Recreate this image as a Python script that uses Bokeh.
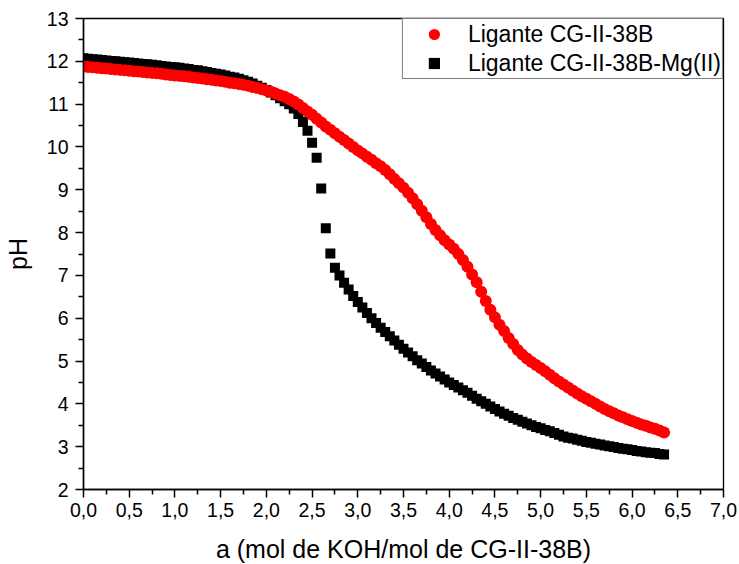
from bokeh.plotting import figure
from bokeh.models import FixedTicker, Range1d, Legend, LegendItem
from bokeh.embed import file_html
from bokeh.resources import INLINE

# Titrant added, a (mol KOH / mol ligand)
a_values = [
    0.00, 0.05, 0.10, 0.15, 0.20, 0.25, 0.30, 0.35, 0.40, 0.45,
    0.50, 0.55, 0.60, 0.65, 0.70, 0.75, 0.80, 0.85, 0.90, 0.95,
    1.00, 1.05, 1.10, 1.15, 1.20, 1.25, 1.30, 1.35, 1.40, 1.45,
    1.50, 1.55, 1.60, 1.65, 1.70, 1.75, 1.80, 1.85, 1.90, 1.95,
    2.00, 2.05, 2.10, 2.15, 2.20, 2.25, 2.30, 2.35, 2.40, 2.45,
    2.50, 2.55, 2.60, 2.65, 2.70, 2.75, 2.80, 2.85, 2.90, 2.95,
    3.00, 3.05, 3.10, 3.15, 3.20, 3.25, 3.30, 3.35, 3.40, 3.45,
    3.50, 3.55, 3.60, 3.65, 3.70, 3.75, 3.80, 3.85, 3.90, 3.95,
    4.00, 4.05, 4.10, 4.15, 4.20, 4.25, 4.30, 4.35, 4.40, 4.45,
    4.50, 4.55, 4.60, 4.65, 4.70, 4.75, 4.80, 4.85, 4.90, 4.95,
    5.00, 5.05, 5.10, 5.15, 5.20, 5.25, 5.30, 5.35, 5.40, 5.45,
    5.50, 5.55, 5.60, 5.65, 5.70, 5.75, 5.80, 5.85, 5.90, 5.95,
    6.00, 6.05, 6.10, 6.15, 6.20, 6.25, 6.30, 6.35,
]

# pH of the free ligand
ph_ligand = [
    11.88, 11.87, 11.86, 11.85, 11.84, 11.83, 11.82, 11.81, 11.80, 11.79,
    11.78, 11.77, 11.76, 11.75, 11.74, 11.73, 11.72, 11.71, 11.69, 11.68,
    11.67, 11.66, 11.65, 11.64, 11.62, 11.61, 11.60, 11.58, 11.57, 11.55,
    11.54, 11.52, 11.50, 11.49, 11.47, 11.45, 11.43, 11.40, 11.38, 11.35,
    11.32, 11.29, 11.25, 11.21, 11.17, 11.12, 11.06, 10.99, 10.91, 10.83,
    10.75, 10.66, 10.57, 10.48, 10.40, 10.32, 10.24, 10.16, 10.08, 10.00,
    9.92, 9.85, 9.77, 9.70, 9.62, 9.55, 9.46, 9.36, 9.25, 9.15,
    9.05, 8.93, 8.80, 8.66, 8.51, 8.36, 8.20, 8.06, 7.94, 7.82,
    7.72, 7.62, 7.50, 7.36, 7.20, 7.02, 6.84, 6.62, 6.40, 6.20,
    6.02, 5.85, 5.70, 5.54, 5.40, 5.26, 5.15, 5.06, 4.98, 4.91,
    4.84, 4.76, 4.68, 4.60, 4.52, 4.45, 4.38, 4.31, 4.24, 4.18,
    4.12, 4.06, 4.00, 3.94, 3.88, 3.83, 3.78, 3.73, 3.69, 3.64,
    3.60, 3.56, 3.52, 3.49, 3.45, 3.42, 3.38, 3.33,
]

# pH of the ligand in presence of Mg(II)
ph_ligand_mg = [
    12.07, 12.06, 12.05, 12.04, 12.03, 12.02, 12.01, 12.00, 11.99, 11.98,
    11.97, 11.96, 11.95, 11.94, 11.93, 11.92, 11.91, 11.89, 11.88, 11.87,
    11.86, 11.85, 11.83, 11.82, 11.80, 11.79, 11.77, 11.75, 11.73, 11.71,
    11.69, 11.67, 11.64, 11.62, 11.59, 11.56, 11.52, 11.48, 11.43, 11.38,
    11.33, 11.27, 11.21, 11.14, 11.07, 11.00, 10.90, 10.77, 10.58, 10.38,
    10.10, 9.75, 9.03, 8.10, 7.51, 7.18, 7.00, 6.83, 6.67, 6.52,
    6.38, 6.25, 6.12, 6.00, 5.89, 5.78, 5.68, 5.58, 5.48, 5.38,
    5.29, 5.20, 5.11, 5.02, 4.94, 4.86, 4.78, 4.71, 4.64, 4.57,
    4.50, 4.44, 4.38, 4.32, 4.26, 4.19, 4.12, 4.06, 4.00, 3.94,
    3.88, 3.82, 3.77, 3.72, 3.67, 3.63, 3.58, 3.54, 3.50, 3.46,
    3.43, 3.39, 3.36, 3.32, 3.28, 3.24, 3.21, 3.19, 3.16, 3.14,
    3.11, 3.09, 3.07, 3.05, 3.03, 3.01, 2.99, 2.97, 2.95, 2.94,
    2.92, 2.90, 2.89, 2.87, 2.86, 2.85, 2.83, 2.82,
]

series_names = ["Ligante CG-II-38B", "Ligante CG-II-38B-Mg(II)"]

x_ticks = [0.0, 0.5, 1.0, 1.5, 2.0, 2.5, 3.0, 3.5, 4.0, 4.5, 5.0, 5.5, 6.0, 6.5, 7.0]
x_tick_labels = ["0,0", "0,5", "1,0", "1,5", "2,0", "2,5", "3,0", "3,5",
                 "4,0", "4,5", "5,0", "5,5", "6,0", "6,5", "7,0"]
x_minor = [0.25, 0.75, 1.25, 1.75, 2.25, 2.75, 3.25, 3.75, 4.25, 4.75,
           5.25, 5.75, 6.25, 6.75]
y_ticks = [2, 3, 4, 5, 6, 7, 8, 9, 10, 11, 12, 13]
y_minor = [2.5, 3.5, 4.5, 5.5, 6.5, 7.5, 8.5, 9.5, 10.5, 11.5, 12.5]

FONT = "Liberation Sans"

p = figure(
    frame_width=640, frame_height=471,
    min_border_left=83, min_border_right=16,
    min_border_top=18, min_border_bottom=75,
    x_range=Range1d(0, 7), y_range=Range1d(2, 13),
    output_backend="svg", toolbar_location=None,
    background_fill_color="white", border_fill_color="white",
)
p.grid.visible = False
p.outline_line_color = "black"
p.outline_line_width = 1.3

# Mg(II) curve underneath, free ligand on top
r_mg = p.scatter(a_values, ph_ligand_mg, marker="square", size=10,
                 fill_color="black", line_color="black", line_width=0)
r_lig = p.scatter(a_values, ph_ligand, marker="circle", size=12,
                  fill_color="#ff0000", line_color="#ff0000", line_width=0)

p.xaxis.ticker = FixedTicker(ticks=x_ticks, minor_ticks=x_minor)
p.xaxis.major_label_overrides = {t: s for t, s in zip(x_ticks, x_tick_labels)}
p.yaxis.ticker = FixedTicker(ticks=y_ticks, minor_ticks=y_minor)

p.xaxis.axis_label = "a (mol de KOH/mol de CG-II-38B)"
p.yaxis.axis_label = "pH"

for ax in (p.xaxis[0], p.yaxis[0]):
    ax.axis_line_width = 1.5
    ax.axis_line_color = "black"
    ax.major_tick_line_color = "black"
    ax.minor_tick_line_color = "black"
    ax.major_tick_line_width = 1.5
    ax.minor_tick_line_width = 1.5
    ax.major_tick_in = 0
    ax.major_tick_out = 8
    ax.minor_tick_in = 0
    ax.minor_tick_out = 5
    ax.major_label_text_font = FONT
    ax.major_label_text_font_size = "19.5px"
    ax.major_label_text_color = "black"
    ax.axis_label_text_font = FONT
    ax.axis_label_text_font_size = "25px"
    ax.axis_label_text_font_style = "normal"
    ax.axis_label_text_color = "black"

p.xaxis.major_label_standoff = 5
p.xaxis.axis_label_standoff = 15
p.yaxis.major_label_standoff = 7
p.yaxis.axis_label_standoff = 12

legend = Legend(
    items=[LegendItem(label=series_names[0], renderers=[r_lig]),
           LegendItem(label=series_names[1], renderers=[r_mg])],
    location="top_right",
    glyph_width=60, glyph_height=28,
    label_standoff=4, spacing=1, padding=1, margin=0,
    label_text_font=FONT, label_text_font_size="23px",
    label_text_color="black",
    border_line_color="black", border_line_width=1,
    background_fill_color="white", background_fill_alpha=1.0,
)
p.add_layout(legend)

open("out.html", "w").write(file_html(p, INLINE))
